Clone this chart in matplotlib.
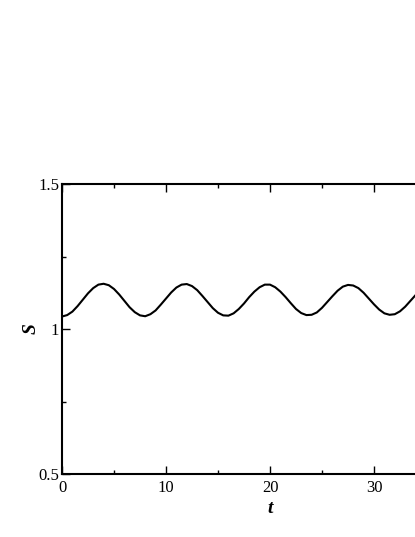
import numpy as np
import matplotlib.pyplot as plt

t = np.arange(0, 36.5, 0.5)
S = [1.043, 1.048, 1.060, 1.079, 1.101, 1.123, 1.141, 1.153, 1.156, 1.151,
     1.138, 1.119, 1.097, 1.075, 1.058, 1.047, 1.044, 1.051, 1.064, 1.084,
     1.105, 1.126, 1.143, 1.153, 1.155, 1.148, 1.134, 1.114, 1.093, 1.072,
     1.056, 1.047, 1.046, 1.054, 1.069, 1.088, 1.110, 1.129, 1.144, 1.153,
     1.153, 1.144, 1.129, 1.110, 1.089, 1.069, 1.055, 1.048, 1.049, 1.057,
     1.073, 1.093, 1.113, 1.132, 1.146, 1.152, 1.150, 1.141, 1.125, 1.105,
     1.085, 1.067, 1.054, 1.049, 1.051, 1.061, 1.077, 1.097, 1.117, 1.134,
     1.146, 1.151, 1.148]

xticks = [0, 10, 20, 30]
yticks = [0.5, 1.0, 1.5]
ytick_labels = ['0.5', '1', '1.5']

plt.rcParams['font.family'] = ['Liberation Serif', 'DejaVu Serif']

fig = plt.figure(figsize=(4.15, 5.37), dpi=100)
# axes run past the right edge of the figure, like the cropped original
ax = fig.add_axes([62 / 415, 63 / 537, 416 / 415, 290 / 537])
ax.plot(t, S, color='black', lw=1.5)

ax.set_xlim(0, 40)
ax.set_ylim(0.5, 1.5)
ax.set_xticks(xticks)
ax.set_xticks([5, 15, 25, 35], minor=True)
ax.set_yticks(yticks)
ax.set_yticklabels(ytick_labels)
ax.set_yticks([0.75, 1.25], minor=True)

ax.tick_params(which='both', direction='in', top=True, right=True,
               labelsize=12, width=1)
ax.tick_params(axis='y', pad=2)
ax.tick_params(axis='x', pad=4)
ax.tick_params(which='major', length=6)
ax.tick_params(which='minor', length=3)
for sp in ax.spines.values():
    sp.set_linewidth(1.5)

ax.set_xlabel('t', fontsize=14, fontweight='bold', style='italic', labelpad=3)
ax.set_ylabel('S', fontsize=14, fontweight='bold', style='italic', labelpad=-1)

fig.savefig('out.png', dpi=100)
